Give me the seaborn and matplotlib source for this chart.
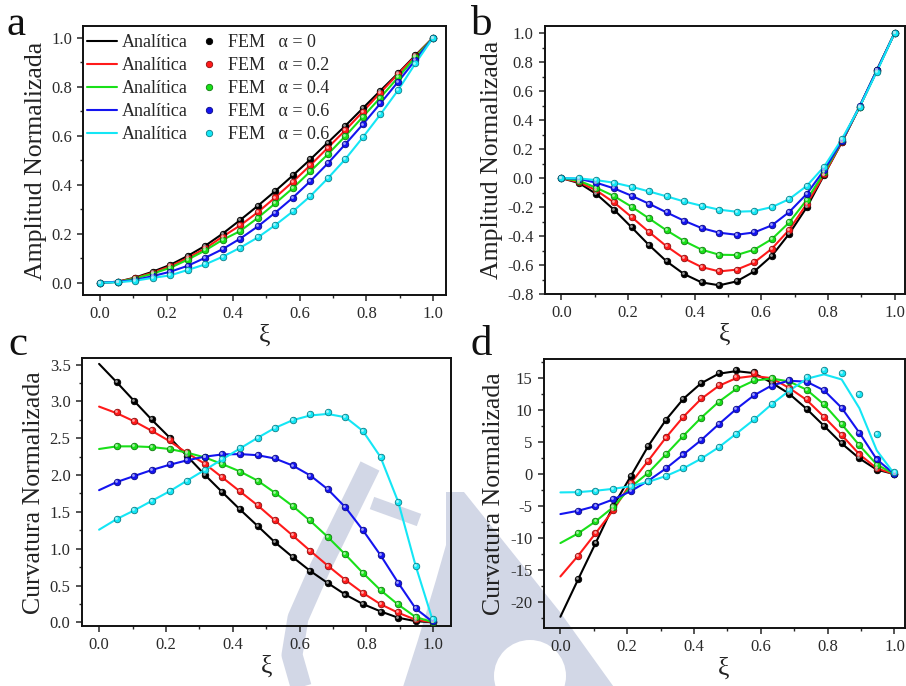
import matplotlib
matplotlib.use("Agg")
import matplotlib.pyplot as plt
import matplotlib.transforms as mtransforms
from matplotlib.lines import Line2D
from matplotlib.patches import Circle, Polygon
from matplotlib.ticker import MultipleLocator
import numpy as np
import pandas as pd
import seaborn as sns

sns.set_style("ticks")
plt.rcParams["font.family"] = ["Liberation Serif", "DejaVu Serif"]
plt.rcParams["axes.unicode_minus"] = False

# ---------------------------------------------------------------- data
# normalised beam coordinate of the sampling points (k/19)
xi = [0.0, 0.053, 0.105, 0.158, 0.211, 0.263, 0.316, 0.368, 0.421, 0.474,
      0.526, 0.579, 0.632, 0.684, 0.737, 0.789, 0.842, 0.895, 0.947, 1.0]
xi_fem_cd = xi[1:]

series_keys = ["a0", "a2", "a4", "a6", "a8"]
alpha_labels = ["0", "0.2", "0.4", "0.6", "0.6"]
colors = ["#000000", "#ff1a1a", "#19e019", "#1414f0", "#14e6f5"]

# (a) normalised amplitude, first mode
amp_a_0 = [0, 0.004, 0.021, 0.045, 0.073, 0.109, 0.151, 0.200, 0.256, 0.314,
           0.374, 0.438, 0.504, 0.572, 0.641, 0.712, 0.784, 0.855, 0.928, 1.0]
amp_a_2 = [0, 0.004, 0.019, 0.041, 0.067, 0.101, 0.140, 0.188, 0.234, 0.288,
           0.348, 0.412, 0.480, 0.551, 0.623, 0.698, 0.776, 0.852, 0.925, 1.0]
amp_a_4 = [0, 0.003, 0.017, 0.037, 0.061, 0.094, 0.132, 0.175, 0.211, 0.265,
           0.324, 0.386, 0.455, 0.524, 0.599, 0.677, 0.756, 0.838, 0.920, 1.0]
amp_a_6 = [0, 0.004, 0.011, 0.027, 0.045, 0.069, 0.102, 0.137, 0.180, 0.230,
           0.286, 0.347, 0.415, 0.487, 0.566, 0.646, 0.732, 0.820, 0.909, 1.0]
amp_a_8 = [0, 0.002, 0.008, 0.020, 0.030, 0.052, 0.075, 0.106, 0.143, 0.185,
           0.235, 0.291, 0.354, 0.426, 0.505, 0.593, 0.687, 0.786, 0.895, 1.0]

# (b) normalised amplitude, second mode
amp_b_0 = [0, -0.034, -0.110, -0.218, -0.340, -0.462, -0.575, -0.662, -0.720, -0.740,
           -0.713, -0.644, -0.536, -0.384, -0.200, 0.023, 0.248, 0.490, 0.742, 1.0]
amp_b_2 = [0, -0.028, -0.085, -0.168, -0.269, -0.372, -0.471, -0.554, -0.614, -0.644,
           -0.632, -0.582, -0.487, -0.356, -0.177, 0.025, 0.250, 0.492, 0.745, 1.0]
amp_b_4 = [0, -0.018, -0.067, -0.124, -0.198, -0.278, -0.361, -0.434, -0.494, -0.529,
           -0.531, -0.494, -0.421, -0.306, -0.149, 0.040, 0.255, 0.493, 0.745, 1.0]
amp_b_6 = [0, -0.005, -0.032, -0.071, -0.122, -0.177, -0.237, -0.294, -0.345, -0.377,
           -0.391, -0.375, -0.326, -0.234, -0.108, 0.057, 0.257, 0.495, 0.745, 1.0]
amp_b_8 = [0, -0.002, -0.014, -0.032, -0.060, -0.092, -0.126, -0.161, -0.191, -0.218,
           -0.232, -0.228, -0.200, -0.145, -0.053, 0.080, 0.269, 0.490, 0.735, 1.0]

# (c) normalised curvature, first mode: analytic curves and FEM samples
curv_c_0 = [3.51, 3.26, 3.006, 2.75, 2.51, 2.26, 2.005, 1.77, 1.535, 1.31,
            1.088, 0.887, 0.697, 0.534, 0.376, 0.249, 0.149, 0.062, 0.016, 0.0]
curv_c_2 = [2.93, 2.84, 2.73, 2.60, 2.46, 2.30, 2.155, 1.97, 1.78, 1.59,
            1.385, 1.18, 0.97, 0.77, 0.575, 0.40, 0.246, 0.13, 0.035, 0.0]
curv_c_4 = [2.354, 2.39, 2.39, 2.38, 2.354, 2.305, 2.24, 2.15, 2.05, 1.925,
            1.76, 1.58, 1.378, 1.16, 0.92, 0.672, 0.437, 0.24, 0.072, 0.0]
curv_c_6 = [1.795, 1.906, 1.987, 2.069, 2.14, 2.20, 2.25, 2.28, 2.285, 2.27,
            2.225, 2.13, 1.994, 1.808, 1.562, 1.254, 0.912, 0.536, 0.188, 0.0]
curv_c_8 = [1.258, 1.403, 1.52, 1.65, 1.78, 1.924, 2.069, 2.212, 2.36, 2.505,
            2.64, 2.745, 2.81, 2.83, 2.785, 2.60, 2.245, 1.635, 0.77, 0.0]

fem_c_0 = [3.27, 3.01, 2.76, 2.51, 2.26, 2.0, 1.775, 1.535, 1.31, 1.086,
           0.889, 0.70, 0.536, 0.378, 0.249, 0.146, 0.061, 0.012, 0.0]
fem_c_2 = [2.853, 2.74, 2.61, 2.47, 2.31, 2.155, 1.974, 1.784, 1.592, 1.39,
           1.186, 0.973, 0.77, 0.575, 0.405, 0.249, 0.136, 0.04, 0.0]
fem_c_4 = [2.40, 2.40, 2.386, 2.355, 2.30, 2.24, 2.145, 2.046, 1.925, 1.763,
           1.58, 1.385, 1.163, 0.928, 0.674, 0.439, 0.249, 0.076, 0.0]
fem_c_6 = [1.91, 1.99, 2.07, 2.147, 2.205, 2.25, 2.283, 2.287, 2.273, 2.228,
           2.13, 1.992, 1.811, 1.562, 1.254, 0.914, 0.538, 0.19, 0.02]
fem_c_8 = [1.404, 1.526, 1.652, 1.784, 1.924, 2.07, 2.215, 2.364, 2.51, 2.64,
           2.749, 2.826, 2.853, 2.785, 2.603, 2.25, 1.639, 0.77, 0.04]

# (d) normalised curvature, second mode: analytic curves and FEM samples
curv_d_0 = [-22.3, -16.46, -10.83, -5.0, -0.3, 4.4, 8.49, 11.77, 14.2, 15.7,
            16.1, 15.8, 14.3, 12.6, 10.2, 7.55, 4.8, 2.45, 0.7, 0.0]
curv_d_2 = [-16.0, -12.76, -9.27, -5.65, -1.4, 2.1, 5.73, 8.96, 11.75, 13.8,
            15.0, 15.35, 15.0, 13.5, 11.6, 8.96, 6.1, 3.1, 0.9, 0.0]
curv_d_4 = [-10.78, -9.27, -7.4, -5.16, -2.0, 0.2, 3.1, 5.99, 8.8, 11.3,
            13.3, 14.6, 14.95, 14.5, 13.2, 10.9, 7.8, 4.5, 1.5, 0.0]
curv_d_6 = [-6.25, -5.73, -5.0, -3.96, -2.66, -1.04, 0.89, 3.07, 5.3, 7.8,
            10.16, 12.3, 13.85, 14.6, 14.45, 13.1, 10.36, 6.46, 2.3, 0.0]
curv_d_8 = [-2.86, -2.82, -2.6, -2.3, -1.9, -1.2, -0.3, 0.9, 2.4, 4.2,
            6.3, 8.5, 10.9, 13.0, 14.9, 15.6, 14.8, 10.3, 3.7, 0.0]

fem_d_0 = [-16.46, -10.83, -5.0, -0.3, 4.4, 8.49, 11.77, 14.25, 15.85, 16.3,
           15.95, 14.3, 12.6, 10.2, 7.55, 4.8, 2.45, 0.65, 0.0]
fem_d_2 = [-12.76, -9.27, -5.65, -1.4, 2.1, 5.73, 8.96, 11.83, 13.9, 15.2,
           15.85, 14.9, 13.4, 11.7, 8.96, 6.1, 3.07, 0.89, 0.0]
fem_d_4 = [-9.27, -7.4, -5.16, -2.0, 0.2, 3.1, 5.99, 8.8, 11.3, 13.4,
           14.7, 15.1, 14.5, 13.2, 10.9, 7.8, 4.5, 1.5, 0.0]
fem_d_6 = [-5.73, -5.0, -3.96, -2.66, -1.04, 0.89, 3.07, 5.3, 7.8, 10.16,
           12.3, 13.85, 14.74, 14.48, 13.18, 10.36, 6.46, 2.29, 0.0]
fem_d_8 = [-2.81, -2.6, -2.29, -1.93, -1.15, -0.26, 0.89, 2.45, 4.3, 6.3,
           8.55, 11.0, 13.2, 15.2, 16.3, 15.85, 12.6, 6.35, 0.3]

# ---------------------------------------------------------------- styling
TICK_FS = 12
LABEL_FS = 18.5
LEGEND_FS = 13
LETTER_FS = 31
MARK_COLOR = "#d2d7e6"
palette = dict(zip(series_keys, colors))

fig = plt.figure(figsize=(9.06, 6.86), dpi=100)
W, H = 906.0, 686.0


def long_frame(x, curves):
    rows = []
    for key, vals in zip(series_keys, curves):
        for xv, yv in zip(x, vals):
            rows.append({"xi": xv, "val": yv, "serie": key})
    return pd.DataFrame(rows)


def shade(c, f):
    r, g, b = matplotlib.colors.to_rgb(c)
    return (r * f, g * f, b * f)


def tint(c, f):
    r, g, b = matplotlib.colors.to_rgb(c)
    return (r + (1 - r) * f, g + (1 - g) * f, b + (1 - b) * f)


def draw_panel(ax, line_x, line_curves, fem_x, fem_curves):
    df_line = long_frame(line_x, line_curves)
    sns.lineplot(data=df_line, x="xi", y="val", hue="serie", palette=palette,
                 hue_order=series_keys, estimator=None, sort=False,
                 linewidth=1.5, legend=False, ax=ax, zorder=2)
    df_fem = long_frame(fem_x, fem_curves)
    glint = ax.transData + mtransforms.ScaledTranslation(
        -0.7 / 72, 0.7 / 72, ax.figure.dpi_scale_trans)
    for key, c in zip(series_keys, colors):
        sub = df_fem[df_fem["serie"] == key]
        sns.scatterplot(data=sub, x="xi", y="val", color=c, s=22,
                        edgecolor=shade(c, 0.55), linewidth=0.6,
                        legend=False, ax=ax, zorder=3)
        ax.scatter(sub["xi"], sub["val"], s=4, color=tint(c, 0.6),
                   linewidths=0, zorder=4, transform=glint)


def style_axes(ax, xlim, ylim, ymajor, yminor, ylabel, ylab_x):
    ax.set_xlim(*xlim)
    ax.set_ylim(*ylim)
    ax.patch.set_alpha(0)
    ax.xaxis.set_major_locator(MultipleLocator(0.2))
    ax.xaxis.set_minor_locator(MultipleLocator(0.1))
    ax.yaxis.set_major_locator(MultipleLocator(ymajor))
    ax.yaxis.set_minor_locator(MultipleLocator(yminor))
    ax.tick_params(which="major", direction="out", length=4.5, width=1.1,
                   labelsize=TICK_FS, labelcolor="#2a2a2a", pad=3.5)
    ax.tick_params(which="minor", direction="out", length=2.5, width=1.0)
    ax.tick_params(top=False, right=False, which="both")
    for sp in ax.spines.values():
        sp.set_visible(True)
        sp.set_linewidth(1.4)
        sp.set_color("#111111")
    ax.set_xlabel("ξ", fontsize=LABEL_FS, color="#222222")
    ax.set_ylabel(ylabel, fontsize=LABEL_FS, color="#222222")
    ax.yaxis.set_label_coords(ylab_x, 0.5)
    ax.xaxis.set_label_coords(0.5, -0.108)
    ax.xaxis.label.set_va("top")


def axes_px(left, top, right, bottom):
    return fig.add_axes([left / W, 1 - bottom / H, (right - left) / W, (bottom - top) / H])


# pale logo behind the lower panels, in pixels (y measured from the top)
def pale_poly(points, color=MARK_COLOR, z=-5):
    fig.add_artist(Polygon([(x, H - y) for x, y in points], closed=True,
                           facecolor=color, edgecolor="none",
                           transform=None, zorder=z))


def pale_stroke(points, width_px):
    xs = [p[0] / W for p in points]
    ys = [1 - p[1] / H for p in points]
    fig.add_artist(Line2D(xs, ys, transform=fig.transFigure, color=MARK_COLOR,
                          lw=width_px * 0.72, solid_capstyle="butt",
                          solid_joinstyle="round", zorder=-5))


pale_stroke([(370, 466), (346, 515), (320, 568), (298, 618), (292, 655), (302, 690)], 21)
pale_stroke([(372, 503), (419, 520)], 13)
pale_poly([(446, 492), (464, 492), (560, 612), (616, 690), (402, 690),
           (418, 640), (436, 580), (446, 545)])
fig.add_artist(Circle((530, H - 676), 36, facecolor="white", edgecolor="none",
                      transform=None, zorder=-4))

ax_a = axes_px(83, 26, 446, 295)
ax_b = axes_px(544.7, 26, 904.5, 294)
ax_c = axes_px(81.7, 358, 450.7, 626.3)
ax_d = axes_px(543.7, 359, 904.5, 628)

draw_panel(ax_a, xi, [amp_a_0, amp_a_2, amp_a_4, amp_a_6, amp_a_8],
           xi, [amp_a_0, amp_a_2, amp_a_4, amp_a_6, amp_a_8])
draw_panel(ax_b, xi, [amp_b_0, amp_b_2, amp_b_4, amp_b_6, amp_b_8],
           xi, [amp_b_0, amp_b_2, amp_b_4, amp_b_6, amp_b_8])
draw_panel(ax_c, xi, [curv_c_0, curv_c_2, curv_c_4, curv_c_6, curv_c_8],
           xi_fem_cd, [fem_c_0, fem_c_2, fem_c_4, fem_c_6, fem_c_8])
draw_panel(ax_d, xi, [curv_d_0, curv_d_2, curv_d_4, curv_d_6, curv_d_8],
           xi_fem_cd, [fem_d_0, fem_d_2, fem_d_4, fem_d_6, fem_d_8])

style_axes(ax_a, (-0.051, 1.039), (-0.05, 1.048), 0.2, 0.1,
           "Amplitud Normalizada", -0.099)
style_axes(ax_b, (-0.05, 1.03), (-0.8, 1.05), 0.2, 0.1,
           "Amplitud Normalizada", -0.116)
style_axes(ax_c, (-0.052, 1.052), (-0.054, 3.59), 0.5, 0.25,
           "Curvatura Normalizada", -0.0995)
style_axes(ax_d, (-0.05, 1.03), (-24.06, 18.0), 5, 2.5,
           "Curvatura Normalizada", -0.108)

# legend: analytic lines in the first column, FEM markers in the second
line_handles = [Line2D([], [], color=c, lw=1.5) for c in colors]
marker_handles = [Line2D([], [], ls="none", marker="o", markersize=4.6,
                         markerfacecolor=c, markeredgecolor=shade(c, 0.55),
                         markeredgewidth=0.6) for c in colors]
labels = ["Analítica"] * 5 + ["FEM   α = " + a for a in alpha_labels]
ax_a.legend(line_handles + marker_handles, labels, ncol=2, loc="upper left",
            bbox_to_anchor=(-0.012, 1.0), frameon=False, fontsize=LEGEND_FS,
            handlelength=1.7, handletextpad=0.25, columnspacing=0.3,
            labelspacing=0.33, borderpad=0.3, borderaxespad=0.15)

# panel letters
for letter, x, y in [("a", 7, 35), ("b", 471, 35), ("c", 8, 355), ("d", 471, 355)]:
    fig.text(x / W, 1 - y / H, letter, fontsize=LETTER_FS, va="baseline",
             ha="left", color="#111111")

fig.savefig("out.png", dpi=100)
